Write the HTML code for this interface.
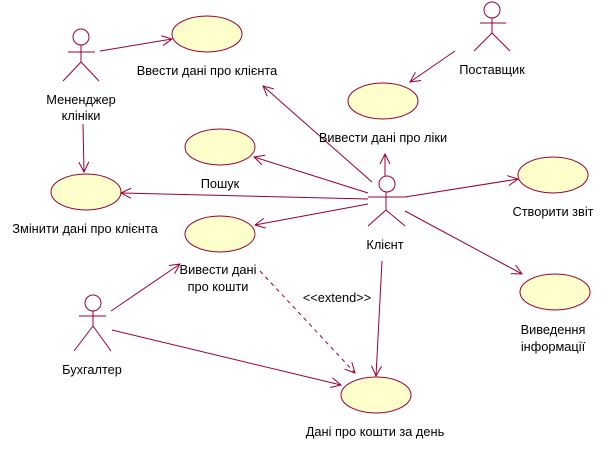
<!DOCTYPE html>
<html><head><meta charset="utf-8"><style>
html,body{margin:0;padding:0;background:#fff;}
svg text{font-family:"Liberation Sans",Arial,sans-serif;font-size:12.8px;fill:#000;}
</style></head><body>
<svg width="609" height="448" viewBox="0 0 609 448" xmlns="http://www.w3.org/2000/svg">
<defs>
<marker id="a" markerWidth="12" markerHeight="12" refX="11" refY="6" orient="auto" markerUnits="userSpaceOnUse">
<path d="M1,1 L11,6 L1,11" fill="none" stroke="#990033" stroke-width="1"/>
</marker>
</defs>
<g fill="#ffffcc" stroke="#990033" stroke-width="1">
<ellipse cx="207" cy="34" rx="35" ry="18"/>
<ellipse cx="220" cy="147" rx="35" ry="18"/>
<ellipse cx="86" cy="192" rx="35" ry="18"/>
<ellipse cx="220" cy="234" rx="35" ry="18"/>
<ellipse cx="383" cy="101" rx="35" ry="18"/>
<ellipse cx="553" cy="175" rx="35" ry="18"/>
<ellipse cx="555" cy="292" rx="35" ry="18"/>
<ellipse cx="376" cy="395" rx="35" ry="18"/>
</g>
<g fill="none" stroke="#990033" stroke-width="1">
<circle cx="81" cy="37" r="8"/><path d="M68,52H95M81,45V62M81,62L63,81M81,62L99,81"/>
<circle cx="387" cy="184" r="8"/><path d="M368,197H405M386,192V210M386,210L368,226M386,210L405,226"/>
<circle cx="492" cy="10" r="8"/><path d="M480,23H506M492,18V33M492,33L474,51M492,33L510,51"/>
<circle cx="93" cy="303" r="8"/><path d="M79,316H106M93,311V326M93,326L74,351M93,326L111,351"/>
<g marker-end="url(#a)">
<path d="M100,51L172,39"/>
<path d="M83,124L84,172"/>
<path d="M372,182L263,86"/>
<path d="M385,176L385,154"/>
<path d="M368,193L254,157"/>
<path d="M368,199L121,193"/>
<path d="M368,204L255,225"/>
<path d="M405,197L518,179"/>
<path d="M405,211L522,274"/>
<path d="M382,261L376,376"/>
<path d="M455,51L410,82"/>
<path d="M111,311L180,264"/>
<path d="M112,330L341,385"/>
<path d="M260,271L355,373" stroke-dasharray="4,4"/>
</g>
</g>
<text x="207" y="75" text-anchor="middle">Ввести дані про клієнта</text>
<text x="81" y="104" text-anchor="middle">Мененджер</text>
<text x="81" y="120" text-anchor="middle">клініки</text>
<text x="220" y="188" text-anchor="middle">Пошук</text>
<text x="85" y="233" text-anchor="middle">Змінити дані про клієнта</text>
<text x="218" y="274" text-anchor="middle">Вивести дані</text>
<text x="218" y="291" text-anchor="middle">про кошти</text>
<text x="383" y="142" text-anchor="middle">Вивести дані про ліки</text>
<text x="492" y="74" text-anchor="middle">Поставщик</text>
<text x="385" y="249" text-anchor="middle">Клієнт</text>
<text x="553" y="216" text-anchor="middle">Створити звіт</text>
<text x="553" y="334" text-anchor="middle">Виведення</text>
<text x="553" y="351" text-anchor="middle">інформації</text>
<text x="337" y="302" text-anchor="middle">&lt;&lt;extend&gt;&gt;</text>
<text x="92" y="374" text-anchor="middle">Бухгалтер</text>
<text x="375" y="436" text-anchor="middle">Дані про кошти за день</text>
</svg>
</body></html>
